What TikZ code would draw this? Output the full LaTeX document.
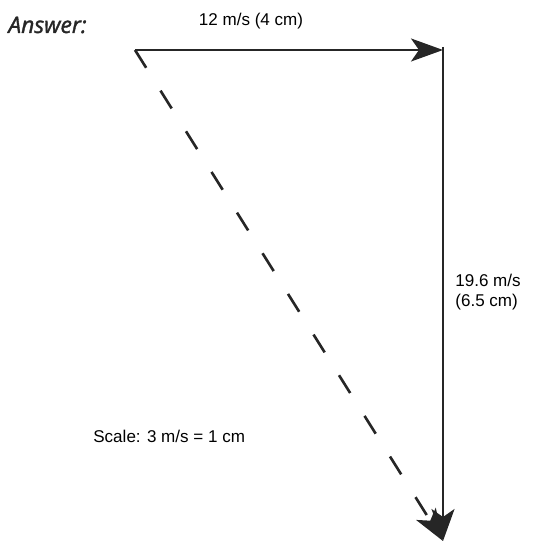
\documentclass[tikz,border=0pt]{standalone}
\usepackage{fontspec}
\setmainfont{Liberation Sans}
\newfontfamily\answerfont[ItalicFeatures={FakeBold=1.5}]{Open Sans}
\usepackage{tikz}
\usetikzlibrary{arrows.meta, positioning, calc}

\begin{document}
\begin{tikzpicture}[x=0.02cm,y=-0.02cm,
    every node/.style={font=\fontsize{9.7}{11.6}\selectfont,inner sep=0pt},
    vec/.style={-{Stealth[length=0.64cm,width=0.46cm,inset=0.16cm]},line width=1.3pt,black!85},
    resultant/.style={vec,line width=1.5pt,dash pattern=on 0.42cm off 0.54cm}]
  \useasboundingbox (0,0) rectangle (536,543);
  \coordinate (tail) at (135,50);
  \coordinate (corner) at (443,50);
  \coordinate (head) at (443,541);
  \node[font=\answerfont\itshape\fontsize{13}{15}\selectfont,anchor=west,black!85] (answer) at (8,25) {Answer:};
  \node (horiz) at (251,21) {12 m/s (4 cm)};
  \node[align=left,anchor=west] (vert) at (455,292) {19.6 m/s\\(6.5 cm)};
  \node[anchor=west] (scale) at (93,436) {Scale: 3 m/s = 1 cm};
  \draw[vec] (tail)--(corner);
  \draw[vec,line width=1.1pt] ($(corner)+(0,-3)$)--(head);
  \draw[resultant] (tail)--(head);
\end{tikzpicture}
\end{document}
